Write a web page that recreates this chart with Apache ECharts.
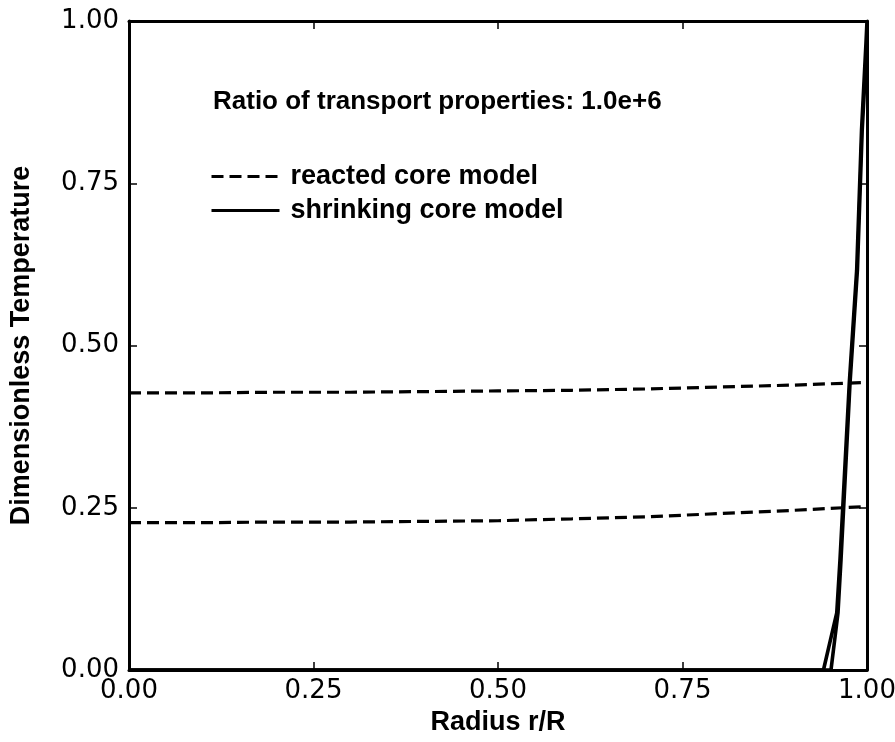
<!DOCTYPE html>
<html>
<head>
<meta charset="utf-8">
<script src="https://cdn.jsdelivr.net/npm/echarts@6/dist/echarts.min.js"></script>
<style>
html,body{margin:0;padding:0;background:#fff;}
#chart{width:895px;height:742px;}
</style>
</head>
<body>
<div id="chart"></div>
<script>
// ---- data ----
var xTicks = [0, 0.25, 0.5, 0.75, 1.0];
var yTicks = [0, 0.25, 0.5, 0.75, 1.0];

var reactedR     = [0, 0.1, 0.2, 0.3, 0.4, 0.5, 0.6, 0.7, 0.8, 0.9, 1.0];
var reactedUpper = [0.427, 0.427, 0.428, 0.428, 0.429, 0.430, 0.431, 0.433, 0.436, 0.439, 0.443];
var reactedLower = [0.227, 0.227, 0.228, 0.228, 0.229, 0.230, 0.233, 0.236, 0.241, 0.246, 0.252];

var shrinkR1 = [0, 0.941, 0.959, 0.9634, 0.976, 0.986, 0.9926, 0.9986, 1.0];
var shrinkT1 = [0, 0, 0.088, 0.17, 0.442, 0.616, 0.832, 0.966, 1.0];
var shrinkR2 = [0, 0.9512, 0.9607, 0.9648, 0.977, 0.987, 0.9935, 1.0];
var shrinkT2 = [0, 0, 0.088, 0.17, 0.442, 0.616, 0.832, 0.97];

var annotation = 'Ratio of transport properties: 1.0e+6';
var legendNames = ['reacted core model', 'shrinking core model'];

function pairs(xs, ys) { return xs.map(function (x, i) { return [x, ys[i]]; }); }

var FONT = '"Liberation Sans", Arial, Helvetica, sans-serif';
var TICKFONT = '"DejaVu Sans", "Liberation Sans", Arial, sans-serif';
var chart = echarts.init(document.getElementById('chart'), null, {renderer: 'canvas'});

function axisBase(show) {
  return {
    type: 'value', min: 0, max: 1, interval: 0.25,
    axisLine: {show: true, onZero: false, lineStyle: {color: '#000', width: 3}},
    axisTick: {show: true, inside: true, length: 8, lineStyle: {color: '#000', width: 1.5}},
    axisLabel: {show: show, color: '#000', fontFamily: TICKFONT, fontSize: 26,
      formatter: function (v) { return v.toFixed(2); }},
    splitLine: {show: false}
  };
}

var xBottom = axisBase(true);
xBottom.position = 'bottom';
xBottom.axisLabel.margin = 8;
xBottom.name = 'Radius r/R';
xBottom.nameLocation = 'middle';
xBottom.nameGap = 34;
xBottom.nameTextStyle = {color: '#000', fontFamily: FONT, fontSize: 27, fontWeight: 'bold'};
var xTop = axisBase(false); xTop.position = 'top';

var yLeft = axisBase(true);
yLeft.position = 'left';
yLeft.axisLabel.margin = 10;
yLeft.name = 'Dimensionless Temperature';
yLeft.nameLocation = 'middle';
yLeft.nameGap = 94;
yLeft.nameTextStyle = {color: '#000', fontFamily: FONT, fontSize: 27, fontWeight: 'bold'};
var yRight = axisBase(false); yRight.position = 'right';

function lineSeries(name, data, dashed) {
  return {
    name: name, type: 'line', data: data, xAxisIndex: 0, yAxisIndex: 0,
    symbol: 'none', smooth: false, animation: false,
    lineStyle: {color: '#000', width: dashed ? 3.2 : 3.6, type: dashed ? [12, 6] : 'solid'},
    itemStyle: {color: '#000'}
  };
}

var option = {
  backgroundColor: '#fff',
  animation: false,
  grid: {left: 129, right: 28, top: 21, bottom: 72, containLabel: false, outerBoundsMode: 'none'},
  xAxis: [xBottom, xTop],
  yAxis: [yLeft, yRight],
  legend: {
    data: legendNames,
    orient: 'vertical',
    left: 205, top: 158,
    itemWidth: 68, itemHeight: 14, itemGap: 7,
    itemStyle: {opacity: 0},
    lineStyle: {width: 3},
    textStyle: {color: '#000', fontFamily: FONT, fontSize: 27, fontWeight: 'bold', padding: [0, 0, 0, 6]},
    inactiveColor: '#000'
  },
  graphic: [{
    type: 'text', left: 213, top: 89,
    style: {text: annotation, fill: '#000', font: 'bold 26px ' + FONT}
  }],
  series: [
    lineSeries(legendNames[0], pairs(reactedR, reactedUpper), true),
    lineSeries(legendNames[0], pairs(reactedR, reactedLower), true),
    lineSeries(legendNames[1], pairs(shrinkR1, shrinkT1), false),
    lineSeries(legendNames[1], pairs(shrinkR2, shrinkT2), false)
  ]
};
chart.setOption(option);
</script>
</body>
</html>
